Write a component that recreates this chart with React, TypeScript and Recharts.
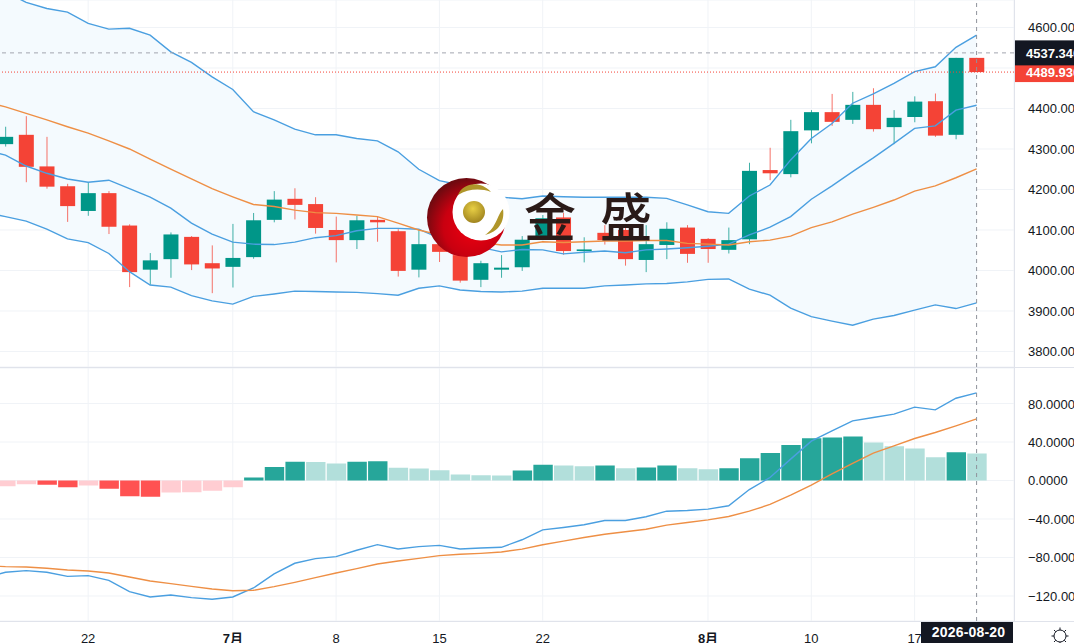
import * as React from "react";
import {
  Area,
  Bar,
  CartesianGrid,
  Cell,
  ComposedChart,
  Line,
  ReferenceLine,
  XAxis,
  YAxis,
} from "recharts";

// one trading day per slot; the slot before the first candle only carries indicator values
const openValues = [
  4312, 4335, 4257, 4208, 4147, 4191, 4111, 4002, 4028, 4083, 4018, 4009, 4033, 4125, 4177, 4164,
  4100, 4075, 4125, 4097, 4002, 4065, 4038, 3977, 4002, 4008, 4083, 4131, 4048, 4093, 4100, 4026,
  4063, 4106, 4078, 4051, 4077, 4248, 4238, 4346, 4391, 4372, 4409, 4354, 4379, 4418, 4335, 4525,
];
const closeValues = [
  4330, 4256, 4207, 4159, 4191, 4108, 3996, 4025, 4089, 4015, 4005, 4031, 4124, 4175, 4162, 4105,
  4075, 4124, 4119, 3999, 4065, 4046, 3975, 4018, 4007, 4076, 4129, 4048, 4052, 4075, 4028, 4065,
  4103, 4041, 4053, 4075, 4246, 4240, 4344, 4391, 4367, 4409, 4349, 4377, 4417, 4333, 4525, 4489.93,
];
const highValues = [
  4355, 4381, 4330, 4214, 4218, 4196, 4114, 4043, 4094, 4085, 4062, 4115, 4142, 4196, 4203, 4181,
  4133, 4135, 4133, 4102, 4102, 4088, 4051, 4024, 4038, 4085, 4137, 4142, 4082, 4112, 4115, 4112,
  4119, 4112, 4080, 4106, 4266, 4303, 4372, 4396, 4436, 4441, 4450, 4396, 4430, 4437, 4525, 4525,
];
const lowValues = [
  4306, 4218, 4202, 4120, 4135, 4090, 3959, 3965, 3982, 4001, 3944, 3958, 4029, 4119, 4126, 4091,
  4020, 4053, 4071, 3985, 3983, 4021, 3970, 3959, 3982, 3999, 4075, 4039, 4020, 4064, 4012, 3996,
  4028, 4019, 4019, 4042, 4065, 4223, 4230, 4314, 4357, 4362, 4343, 4312, 4366, 4330, 4324, 4489.93,
];
const upperBand = [
  4717, 4688, 4662, 4647, 4638, 4610, 4596, 4598, 4581, 4540, 4514, 4478, 4447, 4392, 4372, 4349,
  4335, 4335, 4326, 4320, 4293, 4250, 4222, 4211, 4199, 4181, 4177, 4184, 4182, 4181, 4181, 4181,
  4181, 4178, 4162, 4145, 4141, 4184, 4211, 4273, 4326, 4363, 4413, 4436, 4462, 4491, 4503, 4551,
  4581,
];
const innerBand = [
  4298, 4285, 4258, 4240, 4226, 4218, 4223, 4202, 4181, 4154, 4117, 4090, 4070, 4065, 4064, 4070,
  4081, 4086, 4098, 4104, 4104, 4102, 4080, 4063, 4057, 4046, 4052, 4051, 4041, 4045, 4048, 4044,
  4051, 4053, 4056, 4060, 4065, 4088, 4107, 4133, 4176, 4209, 4244, 4278, 4314, 4351, 4357, 4396,
  4408,
];
const lowerBand = [
  4144, 4133, 4122, 4102, 4078, 4069, 4042, 3997, 3964, 3959, 3938, 3925, 3917, 3936, 3942, 3949,
  3948, 3947, 3946, 3943, 3939, 3956, 3962, 3952, 3948, 3947, 3949, 3956, 3956, 3956, 3962, 3964,
  3967, 3968, 3972, 3978, 3979, 3954, 3939, 3907, 3886, 3875, 3865, 3880, 3889, 3902, 3915, 3906,
  3920,
];
const movingAverage = [
  4416, 4404, 4388, 4372, 4355, 4339, 4320, 4300, 4275, 4250, 4226, 4202, 4182, 4163, 4158, 4149,
  4143, 4141, 4137, 4133, 4117, 4100, 4088, 4078, 4069, 4063, 4063, 4071, 4069, 4071, 4073, 4073,
  4074, 4074, 4067, 4065, 4063, 4071, 4075, 4085, 4106, 4120, 4139, 4156, 4174, 4196, 4209, 4229,
  4251,
];
const histValues = [
  -7, -5.9, -3.8, -4.5, -6.9, -5.2, -8.7, -16.3, -17, -12.5, -12.1, -10.7, -6.9, 3.1, 13.9, 19.4,
  19.3, 17.7, 19.4, 20.1, 13.2, 12.5, 10.7, 6.2, 5.5, 5.2, 10.4, 16.3, 15.6, 14.9, 15.6, 12.8, 13.5,
  15.6, 12.8, 11.8, 12.8, 23.2, 28.7, 37, 44, 44.7, 45.7, 39.5, 35.7, 33.2, 24.2, 29.4, 28,
];
const difValues = [
  -101, -95.4, -93.7, -95.4, -99.6, -98.9, -103.7, -115.5, -121, -119, -121.7, -123.4, -121, -111.7,
  -97.1, -86, -81.2, -79.1, -72.5, -66.7, -71.2, -68.7, -67.4, -71.2, -70.1, -69.4, -61.6, -51.3,
  -48.8, -46, -41.6, -41.6, -37.7, -31.9, -31.2, -29.8, -26.3, -9.4, 3.1, 22.2, 40.9, 51.6, 62, 65.4,
  69, 76.2, 73.4, 85.5, 91,
];
const deaValues = [
  -88.6, -89.5, -89.9, -91.2, -93, -94, -96.1, -100.3, -104.4, -107.2, -110, -112.7, -114.5, -114.1,
  -110.3, -105.8, -100.9, -96.1, -91.6, -86.8, -83.6, -80.9, -78.1, -76.7, -75.7, -74.3, -71.3, -66.8,
  -63, -59.2, -55.8, -53.3, -50.6, -46.4, -43.6, -40.9, -37.4, -31.9, -24.9, -15.2, -4.8, 6.9, 17.7,
  28.4, 36, 43.6, 49.9, 56.8, 64.1,
];

const dateTicks = [4, 11, 16, 21, 26, 34, 39, 44];
const dateLabels = ["22", "7月", "8", "15", "22", "8月", "10", "17"];
const priceTicks = [3800, 3900, 4000, 4100, 4200, 4300, 4400, 4500, 4600];
const macdTicks = [-120, -80, -40, 0, 40, 80];
const LAST_PRICE = 4537.34;
const CLOSE_PRICE = 4489.93;
const CROSS_SLOT = 47;
const CROSS_DATE = "2026-08-20";

const UP = "#009688";
const DOWN = "#f44336";
const GRID = "#f0f3f7";
const AXIS = "#e0e3eb";
const INK = "#131722";
const BLUE = "#4a9fe0";
const ORANGE = "#ee8f45";
const FONT = '"Liberation Sans", "Noto Sans CJK SC", sans-serif';

// the plot starts left of the page so the slot before the first candle stays in the domain
const PLOT_MARGIN = { top: 0, right: 0, bottom: 0, left: -25.5 };

const rows = upperBand.map((upper, k) => {
  const c = k - 1;
  return {
    slot: c,
    open: openValues[c],
    close: closeValues[c],
    high: highValues[c],
    low: lowValues[c],
    range: c >= 0 ? [lowValues[c], highValues[c]] : null,
    band: [lowerBand[k], upper],
    upper,
    inner: innerBand[k],
    lower: lowerBand[k],
    ma: movingAverage[k],
    hist: histValues[k],
    dif: difValues[k],
    dea: deaValues[k],
  };
});

function histColor(k: number) {
  const v = histValues[k];
  const prev = k > 0 ? histValues[k - 1] : -8;
  if (v >= 0) return v > prev ? "#26a69a" : "#b2dfdb";
  return v < prev ? "#ff5252" : "#ffcdd2";
}

// wick plus body, worked out from the pixel box the Bar gets for low..high
function Candle(props: any) {
  const { x, y, width, height, payload } = props;
  if (payload.high == null) return null;
  const perUnit = height / (payload.high - payload.low);
  const top = y + (payload.high - Math.max(payload.open, payload.close)) * perUnit;
  const bodyH = Math.max(Math.abs(payload.open - payload.close) * perUnit, 1.5);
  const color = payload.close >= payload.open ? UP : DOWN;
  const mid = x + width / 2;
  return (
    <g>
      <line x1={mid} x2={mid} y1={y} y2={y + height} stroke={color} strokeOpacity={0.75} />
      <rect x={x} y={top} width={width} height={bodyH} fill={color} />
    </g>
  );
}

function AxisText({ x, y, payload, covered }: any) {
  // a tick behind a price tag has no readable label
  if (covered === payload.value) return null;
  const text = payload.value.toFixed(4).replace("-", "\u2212");
  return (
    <text x={x + 6} y={y + 5} fontSize={13} fontFamily={FONT} fill={INK}>
      {text}
    </text>
  );
}

function DateTick({ x, y, payload }: any) {
  const label = dateLabels[dateTicks.indexOf(payload.value)];
  return (
    <text
      x={x}
      y={y + 14}
      textAnchor="middle"
      fontSize={13}
      fontFamily={FONT}
      fontWeight={label.includes("月") ? 700 : 400}
      fill={INK}
    >
      {label}
    </text>
  );
}

function priceTag(value: number, color: string, halfHeight: number) {
  return ({ viewBox }: any) => (
    <g>
      <rect x={1014} y={viewBox.y - halfHeight} width={60} height={halfHeight * 2} fill={color} />
      <text x={1026} y={viewBox.y + 5} fontSize={13} fontWeight={700} fontFamily={FONT} fill="#fff">
        {value.toFixed(4)}
      </text>
    </g>
  );
}

function dateTag({ viewBox }: any) {
  return (
    <g>
      <rect x={921} y={viewBox.y + viewBox.height} width={92} height={22} fill={INK} />
      <text
        x={968.5}
        y={viewBox.y + viewBox.height + 16}
        textAnchor="middle"
        fontSize={14}
        fontWeight={700}
        letterSpacing={0.2}
        fontFamily={FONT}
        fill="#fff"
      >
        {CROSS_DATE}
      </text>
    </g>
  );
}

function Overlay() {
  const gearRays = [0, 45, 90, 135, 180, 225, 270, 315];
  return (
    <svg
      width={1074}
      height={643}
      style={{ position: "absolute", left: 0, top: 0, pointerEvents: "none" }}
    >
      <defs>
        <radialGradient id="logoRed" cx="58%" cy="62%" r="62%">
          <stop offset="0%" stopColor="#f00010" />
          <stop offset="60%" stopColor="#c90010" />
          <stop offset="100%" stopColor="#6e0a10" />
        </radialGradient>
        <radialGradient id="logoGold" cx="45%" cy="35%" r="70%">
          <stop offset="0%" stopColor="#e8cf45" />
          <stop offset="100%" stopColor="#9b7f1c" />
        </radialGradient>
      </defs>
      <line x1={0} x2={1074} y1={367.5} y2={367.5} stroke={AXIS} />
      <line x1={0} x2={1074} y1={621.5} y2={621.5} stroke={AXIS} />
      <line x1={1014.5} x2={1014.5} y1={0} y2={621} stroke={AXIS} />

      <circle cx={466.5} cy={217.5} r={39.5} fill="url(#logoRed)" />
      <circle cx={481} cy={212} r={28.5} fill="#fff" />
      <circle cx={474} cy={212} r={11} fill="url(#logoGold)" />
      <path d="M458 195 C462 184 479 179 491 192 C480 188 468 189 458 195 Z" fill="#b0962a" />
      <path d="M485 235 C498 232 505 222 503 209 C497 215 497 227 485 235 Z" fill="#b0962a" />
      <text x={524} y={237} fontSize={52} fontWeight={500} fontFamily='"Noto Sans CJK SC"' fill="#2a1a18">
        金
      </text>
      <text x={600} y={237} fontSize={52} fontWeight={500} fontFamily='"Noto Sans CJK SC"' fill="#2a1a18">
        盛
      </text>

      <g stroke={INK} fill="none">
        <circle cx={1060} cy={636} r={6} />
        {gearRays.map((a) => {
          const r = (a * Math.PI) / 180;
          return (
            <line
              key={a}
              x1={1060 + 6 * Math.cos(r)}
              y1={636 + 6 * Math.sin(r)}
              x2={1060 + 8.5 * Math.cos(r)}
              y2={636 + 8.5 * Math.sin(r)}
            />
          );
        })}
      </g>
    </svg>
  );
}

function seriesLine(key: string, color: string) {
  return (
    <Line
      dataKey={key}
      stroke={color}
      strokeWidth={1.4}
      dot={false}
      activeDot={false}
      isAnimationActive={false}
    />
  );
}

export default function App() {
  const xDomain: [number, number] = [-1.5, 48.81];
  return (
    <div
      style={{
        position: "absolute",
        left: 0,
        top: 0,
        width: 1074,
        height: 643,
        overflow: "hidden",
        background: "#fff",
      }}
    >
      <div style={{ position: "absolute", left: 0, top: 0 }}>
        <ComposedChart width={1074} height={367} data={rows} margin={PLOT_MARGIN}>
          <CartesianGrid stroke={GRID} />
          <XAxis dataKey="slot" type="number" domain={xDomain} ticks={dateTicks} allowDataOverflow hide />
          <YAxis
            orientation="right"
            width={60}
            domain={[3761.7, 4667.9]}
            ticks={priceTicks}
            allowDataOverflow
            axisLine={false}
            tickLine={false}
            tick={<AxisText covered={4500} />}
          />
          <Area
            dataKey="band"
            stroke="none"
            fill="#f4fafe"
            fillOpacity={1}
            isAnimationActive={false}
            dot={false}
            activeDot={false}
          />
          {seriesLine("upper", BLUE)}
          {seriesLine("inner", BLUE)}
          {seriesLine("lower", BLUE)}
          {seriesLine("ma", ORANGE)}
          <ReferenceLine y={CLOSE_PRICE} stroke="#f44336" strokeDasharray="1 2" label={priceTag(CLOSE_PRICE, DOWN, 10)} />
          <ReferenceLine y={LAST_PRICE} stroke="#a3a6af" strokeDasharray="4 4" label={priceTag(LAST_PRICE, INK, 12.5)} />
          <Bar dataKey="range" barSize={15} shape={<Candle />} isAnimationActive={false} />
          <ReferenceLine x={CROSS_SLOT} stroke="#8f929b" strokeDasharray="4 4" />
        </ComposedChart>
      </div>
      <div style={{ position: "absolute", left: 0, top: 368 }}>
        <ComposedChart width={1074} height={275} data={rows} margin={PLOT_MARGIN}>
          <CartesianGrid stroke={GRID} />
          <XAxis
            dataKey="slot"
            type="number"
            domain={xDomain}
            ticks={dateTicks}
            height={22}
            allowDataOverflow
            axisLine={false}
            tickLine={false}
            tick={<DateTick />}
          />
          <YAxis
            orientation="right"
            width={60}
            domain={[-146, 116.9]}
            ticks={macdTicks}
            allowDataOverflow
            axisLine={false}
            tickLine={false}
            tick={<AxisText />}
          />
          <Bar dataKey="hist" barSize={19.4} isAnimationActive={false}>
            {rows.map((row, k) => (
              <Cell key={row.slot} fill={histColor(k)} />
            ))}
          </Bar>
          {seriesLine("dif", BLUE)}
          {seriesLine("dea", ORANGE)}
          <ReferenceLine x={CROSS_SLOT} stroke="#8f929b" strokeDasharray="4 4" label={dateTag} />
        </ComposedChart>
      </div>
      <Overlay />
    </div>
  );
}
